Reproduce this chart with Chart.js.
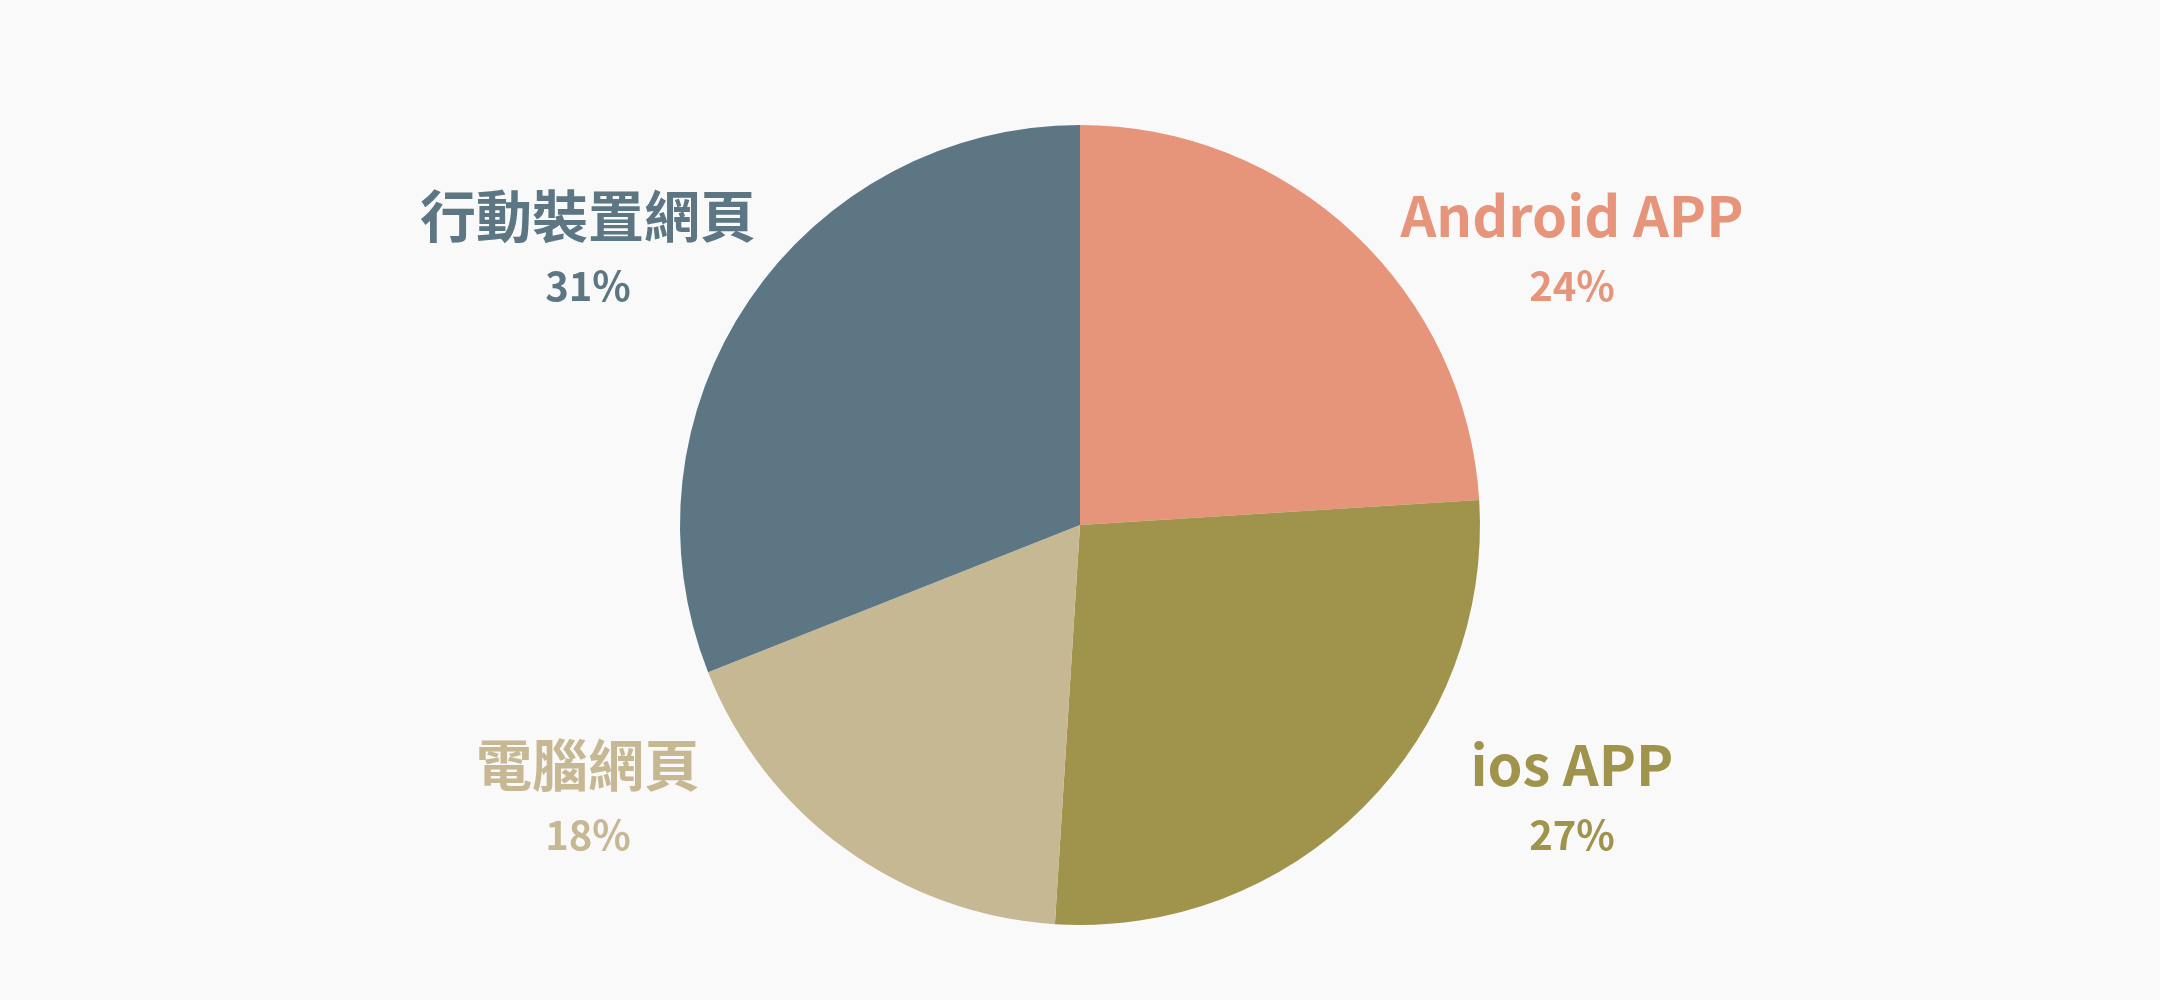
<!DOCTYPE html>
<html>
<head>
<meta charset="utf-8">
<script src="https://cdn.jsdelivr.net/npm/chart.js@4"></script>
<style>
    html, body { margin: 0; padding: 0; background: #f9f9f9; }
    #wrap { width: 2160px; height: 1000px; }
</style>
</head>
<body>
<div id="wrap"><canvas id="pie"></canvas></div>
<script>
// chart data
const labels = ['Android APP', 'ios APP', '電腦網頁', '行動裝置網頁'];
const shares = [24, 27, 18, 31];
const colors = ['#e6957a', '#a0934c', '#c7b894', '#5c7684'];

// draws name + percent beside each slice, one block per quadrant
const quadrantLabels = {
    id: 'quadrantLabels',
    afterDatasetsDraw(chart) {
        const ctx = chart.ctx;
        const arcs = chart.getDatasetMeta(0).data;
        ctx.save();
        ctx.textAlign = 'center';
        ctx.textBaseline = 'middle';
        arcs.forEach((arc, i) => {
            const mid = (arc.startAngle + arc.endAngle) / 2;
            const sx = Math.cos(mid) >= 0 ? 1 : -1;
            const sy = Math.sin(mid) >= 0 ? 1 : -1;
            const r = arc.outerRadius;
            const x = arc.x + sx * r * 1.23;
            const y = arc.y + sy * r * 0.686;
            ctx.fillStyle = colors[i];
            ctx.font = 'bold 56px "Noto Sans CJK TC"';
            ctx.fillText(labels[i], x, y - 35);
            ctx.font = 'bold 40px "Noto Sans CJK TC"';
            ctx.fillText(shares[i] + '%', x, y + 35);
        });
        ctx.restore();
    }
};

new Chart(document.getElementById('pie'), {
    type: 'pie',
    data: {
        labels: labels,
        datasets: [{
            data: shares,
            backgroundColor: colors,
            borderWidth: 0
        }]
    },
    options: {
        responsive: true,
        maintainAspectRatio: false,
        animation: false,
        layout: { padding: { top: 125, bottom: 75 } },
        plugins: {
            legend: { display: false },
            tooltip: { enabled: false }
        }
    },
    plugins: [quadrantLabels]
});
</script>
</body>
</html>
